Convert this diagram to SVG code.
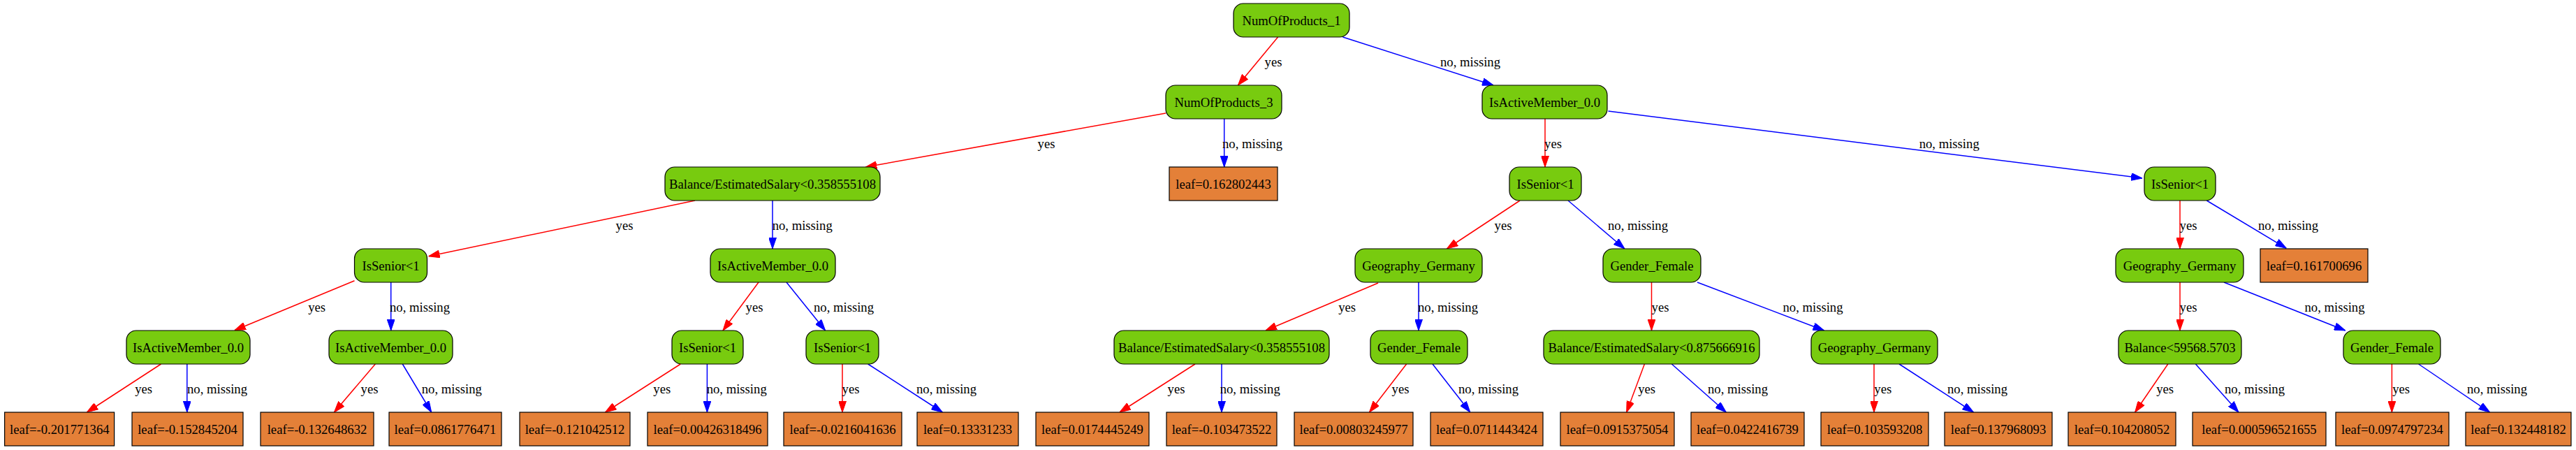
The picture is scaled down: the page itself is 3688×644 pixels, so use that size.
<svg xmlns="http://www.w3.org/2000/svg" width="3688" height="644" viewBox="0 0 3688 644">
<style>
text{font-family:"Liberation Serif","Times New Roman",serif;font-size:18.67px;fill:#000;text-anchor:middle}
.c{fill:#78CB0F;stroke:#000;stroke-width:1.2}
.l{fill:#E48038;stroke:#000;stroke-width:1.2}
.y{stroke:#FF0000;stroke-width:1.5;fill:none;marker-end:url(#ar)}
.n{stroke:#0000FF;stroke-width:1.5;fill:none;marker-end:url(#ab)}
</style>
<defs>
<marker id="ar" markerUnits="userSpaceOnUse" markerWidth="16" markerHeight="11" viewBox="0 0 16 11" refX="16" refY="5.5" orient="auto"><path d="M0,0 L16,5.5 L0,11 z" fill="#FF0000" stroke="#FF0000" stroke-width="1"/></marker>
<marker id="ab" markerUnits="userSpaceOnUse" markerWidth="16" markerHeight="11" viewBox="0 0 16 11" refX="16" refY="5.5" orient="auto"><path d="M0,0 L16,5.5 L0,11 z" fill="#0000FF" stroke="#0000FF" stroke-width="1"/></marker>
</defs>
<rect width="3688" height="644" fill="#fff"/>
<g id="edges">
<line class="y" x1="1829.6" y1="53" x2="1772.4" y2="122"/><text x="1823" y="95.3">yes</text>
<line class="n" x1="1922.4" y1="53" x2="2138" y2="122"/><text x="2105" y="95.3">no, missing</text>
<line class="y" x1="1669" y1="162" x2="1239.3" y2="239"/><text x="1498" y="212.3">yes</text>
<line class="n" x1="1752.7" y1="170" x2="1752.7" y2="239"/><text x="1793" y="212.3">no, missing</text>
<line class="y" x1="2212" y1="170" x2="2212" y2="239"/><text x="2223.5" y="212.3">yes</text>
<line class="n" x1="2302.5" y1="159" x2="3067" y2="255"/><text x="2790.7" y="212.3">no, missing</text>
<line class="y" x1="995" y1="287" x2="613.6" y2="366.7"/><text x="894" y="329.3">yes</text>
<line class="n" x1="1106" y1="287" x2="1106" y2="356"/><text x="1148.7" y="329.3">no, missing</text>
<line class="y" x1="2176" y1="287" x2="2071.4" y2="356"/><text x="2152" y="329.3">yes</text>
<line class="n" x1="2245" y1="287" x2="2326" y2="356"/><text x="2345" y="329.3">no, missing</text>
<line class="y" x1="3121" y1="287" x2="3121" y2="356"/><text x="3133" y="329.3">yes</text>
<line class="n" x1="3159.3" y1="287" x2="3273.3" y2="355.3"/><text x="3276" y="329.3">no, missing</text>
<line class="y" x1="507.5" y1="401.7" x2="335.8" y2="472.7"/><text x="453.6" y="446.3">yes</text>
<line class="n" x1="559.7" y1="404" x2="559.7" y2="473"/><text x="601" y="446.3">no, missing</text>
<line class="y" x1="1086" y1="404" x2="1035" y2="473"/><text x="1080" y="446.3">yes</text>
<line class="n" x1="1126" y1="404" x2="1181.6" y2="473"/><text x="1208" y="446.3">no, missing</text>
<line class="y" x1="1973" y1="405" x2="1812" y2="473"/><text x="1928.6" y="446.3">yes</text>
<line class="n" x1="2031" y1="404" x2="2031" y2="473"/><text x="2073" y="446.3">no, missing</text>
<line class="y" x1="2364.5" y1="404" x2="2364.5" y2="473"/><text x="2377" y="446.3">yes</text>
<line class="n" x1="2430" y1="404" x2="2611.6" y2="473"/><text x="2595.5" y="446.3">no, missing</text>
<line class="y" x1="3121" y1="404" x2="3121" y2="473"/><text x="3133" y="446.3">yes</text>
<line class="n" x1="3184" y1="404" x2="3357.8" y2="473"/><text x="3342.5" y="446.3">no, missing</text>
<line class="y" x1="230.5" y1="521" x2="124.4" y2="590"/><text x="205.6" y="563">yes</text>
<line class="n" x1="267.8" y1="521" x2="267.8" y2="590"/><text x="311" y="563">no, missing</text>
<line class="y" x1="537.3" y1="521" x2="478.4" y2="590"/><text x="529" y="563">yes</text>
<line class="n" x1="576.3" y1="521" x2="617.7" y2="590"/><text x="646.8" y="563">no, missing</text>
<line class="y" x1="974.3" y1="521" x2="866.5" y2="590"/><text x="947.8" y="563">yes</text>
<line class="n" x1="1012.4" y1="521" x2="1012.4" y2="590"/><text x="1054.7" y="563">no, missing</text>
<line class="y" x1="1206" y1="521" x2="1206" y2="590"/><text x="1218" y="563">yes</text>
<line class="n" x1="1242.7" y1="521" x2="1349.3" y2="590"/><text x="1355" y="563">no, missing</text>
<line class="y" x1="1711" y1="521" x2="1603" y2="590"/><text x="1684" y="563">yes</text>
<line class="n" x1="1749" y1="521" x2="1749" y2="590"/><text x="1789.7" y="563">no, missing</text>
<line class="y" x1="2013.6" y1="521" x2="1960.5" y2="590"/><text x="2005" y="563">yes</text>
<line class="n" x1="2051" y1="521" x2="2104.8" y2="590"/><text x="2131" y="563">no, missing</text>
<line class="y" x1="2354.4" y1="521" x2="2328.7" y2="590"/><text x="2357.7" y="563">yes</text>
<line class="n" x1="2393.4" y1="521" x2="2471.3" y2="590"/><text x="2488" y="563">no, missing</text>
<line class="y" x1="2683" y1="521" x2="2683" y2="590"/><text x="2695.8" y="563">yes</text>
<line class="n" x1="2719" y1="521" x2="2825.5" y2="590"/><text x="2831" y="563">no, missing</text>
<line class="y" x1="3103.8" y1="521" x2="3056.6" y2="590"/><text x="3099.6" y="563">yes</text>
<line class="n" x1="3143.4" y1="521" x2="3205" y2="590"/><text x="3228" y="563">no, missing</text>
<line class="y" x1="3424.4" y1="521" x2="3424.4" y2="590"/><text x="3437.6" y="563">yes</text>
<line class="n" x1="3462.6" y1="521" x2="3564.6" y2="590"/><text x="3575" y="563">no, missing</text>
</g>
<g id="n0"><rect class="c" x="1766" y="5" width="166" height="48" rx="14"/><text x="1849" y="36">NumOfProducts_1</text></g>
<g id="n1"><rect class="c" x="1669" y="122" width="166" height="48" rx="14"/><text x="1752" y="153">NumOfProducts_3</text></g>
<g id="n2"><rect class="c" x="2122" y="122" width="179" height="48" rx="14"/><text x="2211.5" y="153">IsActiveMember_0.0</text></g>
<g id="n3"><rect class="c" x="952" y="239" width="308" height="48" rx="14"/><text x="1106" y="270">Balance/EstimatedSalary&lt;0.358555108</text></g>
<g id="n4"><rect class="l" x="1674" y="239" width="155" height="48"/><text x="1751.5" y="270">leaf=0.162802443</text></g>
<g id="n5"><rect class="c" x="2161" y="239" width="103" height="48" rx="14"/><text x="2212.5" y="270">IsSenior&lt;1</text></g>
<g id="n6"><rect class="c" x="3070" y="239" width="102" height="48" rx="14"/><text x="3121" y="270">IsSenior&lt;1</text></g>
<g id="n7"><rect class="c" x="507.5" y="356" width="104" height="48" rx="14"/><text x="559.5" y="387">IsSenior&lt;1</text></g>
<g id="n8"><rect class="c" x="1017" y="356" width="179" height="48" rx="14"/><text x="1106.5" y="387">IsActiveMember_0.0</text></g>
<g id="n9"><rect class="c" x="1940" y="356" width="182" height="48" rx="14"/><text x="2031" y="387">Geography_Germany</text></g>
<g id="n10"><rect class="c" x="2295" y="356" width="140" height="48" rx="14"/><text x="2365" y="387">Gender_Female</text></g>
<g id="n11"><rect class="c" x="3029" y="356" width="183" height="48" rx="14"/><text x="3120.5" y="387">Geography_Germany</text></g>
<g id="n12"><rect class="l" x="3236" y="356" width="154" height="48"/><text x="3313" y="387">leaf=0.161700696</text></g>
<g id="n13"><rect class="c" x="181" y="473" width="177" height="48" rx="14"/><text x="269.5" y="504">IsActiveMember_0.0</text></g>
<g id="n14"><rect class="c" x="471" y="473" width="177" height="48" rx="14"/><text x="559.5" y="504">IsActiveMember_0.0</text></g>
<g id="n15"><rect class="c" x="962" y="473" width="102" height="48" rx="14"/><text x="1013" y="504">IsSenior&lt;1</text></g>
<g id="n16"><rect class="c" x="1154" y="473" width="104" height="48" rx="14"/><text x="1206" y="504">IsSenior&lt;1</text></g>
<g id="n17"><rect class="c" x="1595" y="473" width="308" height="48" rx="14"/><text x="1749" y="504">Balance/EstimatedSalary&lt;0.358555108</text></g>
<g id="n18"><rect class="c" x="1962" y="473" width="139" height="48" rx="14"/><text x="2031.5" y="504">Gender_Female</text></g>
<g id="n19"><rect class="c" x="2210" y="473" width="309" height="48" rx="14"/><text x="2364.5" y="504">Balance/EstimatedSalary&lt;0.875666916</text></g>
<g id="n20"><rect class="c" x="2593" y="473" width="181" height="48" rx="14"/><text x="2683.5" y="504">Geography_Germany</text></g>
<g id="n21"><rect class="c" x="3033" y="473" width="176" height="48" rx="14"/><text x="3121" y="504">Balance&lt;59568.5703</text></g>
<g id="n22"><rect class="c" x="3355" y="473" width="139" height="48" rx="14"/><text x="3424.5" y="504">Gender_Female</text></g>
<g id="l1"><rect class="l" x="6.6" y="590" width="157" height="48"/><text x="85.3" y="621">leaf=-0.201771364</text></g>
<g id="l2"><rect class="l" x="189" y="590" width="159" height="48"/><text x="268.5" y="621">leaf=-0.152845204</text></g>
<g id="l3"><rect class="l" x="373" y="590" width="162" height="48"/><text x="454" y="621">leaf=-0.132648632</text></g>
<g id="l4"><rect class="l" x="557" y="590" width="161" height="48"/><text x="637.5" y="621">leaf=0.0861776471</text></g>
<g id="l5"><rect class="l" x="744" y="590" width="158" height="48"/><text x="823" y="621">leaf=-0.121042512</text></g>
<g id="l6"><rect class="l" x="927" y="590" width="172" height="48"/><text x="1013" y="621">leaf=0.00426318496</text></g>
<g id="l7"><rect class="l" x="1122" y="590" width="169" height="48"/><text x="1206.5" y="621">leaf=-0.0216041636</text></g>
<g id="l8"><rect class="l" x="1313" y="590" width="145" height="48"/><text x="1385.5" y="621">leaf=0.13331233</text></g>
<g id="l9"><rect class="l" x="1483" y="590" width="162" height="48"/><text x="1564" y="621">leaf=0.0174445249</text></g>
<g id="l10"><rect class="l" x="1670" y="590" width="158" height="48"/><text x="1749" y="621">leaf=-0.103473522</text></g>
<g id="l11"><rect class="l" x="1853" y="590" width="170" height="48"/><text x="1938" y="621">leaf=0.00803245977</text></g>
<g id="l12"><rect class="l" x="2048" y="590" width="161" height="48"/><text x="2128.5" y="621">leaf=0.0711443424</text></g>
<g id="l13"><rect class="l" x="2234" y="590" width="163" height="48"/><text x="2315.5" y="621">leaf=0.0915375054</text></g>
<g id="l14"><rect class="l" x="2421" y="590" width="162" height="48"/><text x="2502" y="621">leaf=0.0422416739</text></g>
<g id="l15"><rect class="l" x="2607" y="590" width="154" height="48"/><text x="2684" y="621">leaf=0.103593208</text></g>
<g id="l16"><rect class="l" x="2784" y="590" width="154" height="48"/><text x="2861" y="621">leaf=0.137968093</text></g>
<g id="l17"><rect class="l" x="2961" y="590" width="154" height="48"/><text x="3038" y="621">leaf=0.104208052</text></g>
<g id="l18"><rect class="l" x="3139" y="590" width="191" height="48"/><text x="3234.5" y="621">leaf=0.000596521655</text></g>
<g id="l19"><rect class="l" x="3344" y="590" width="162" height="48"/><text x="3425" y="621">leaf=0.0974797234</text></g>
<g id="l20"><rect class="l" x="3530" y="590" width="151" height="48"/><text x="3605.5" y="621">leaf=0.132448182</text></g>
</svg>
